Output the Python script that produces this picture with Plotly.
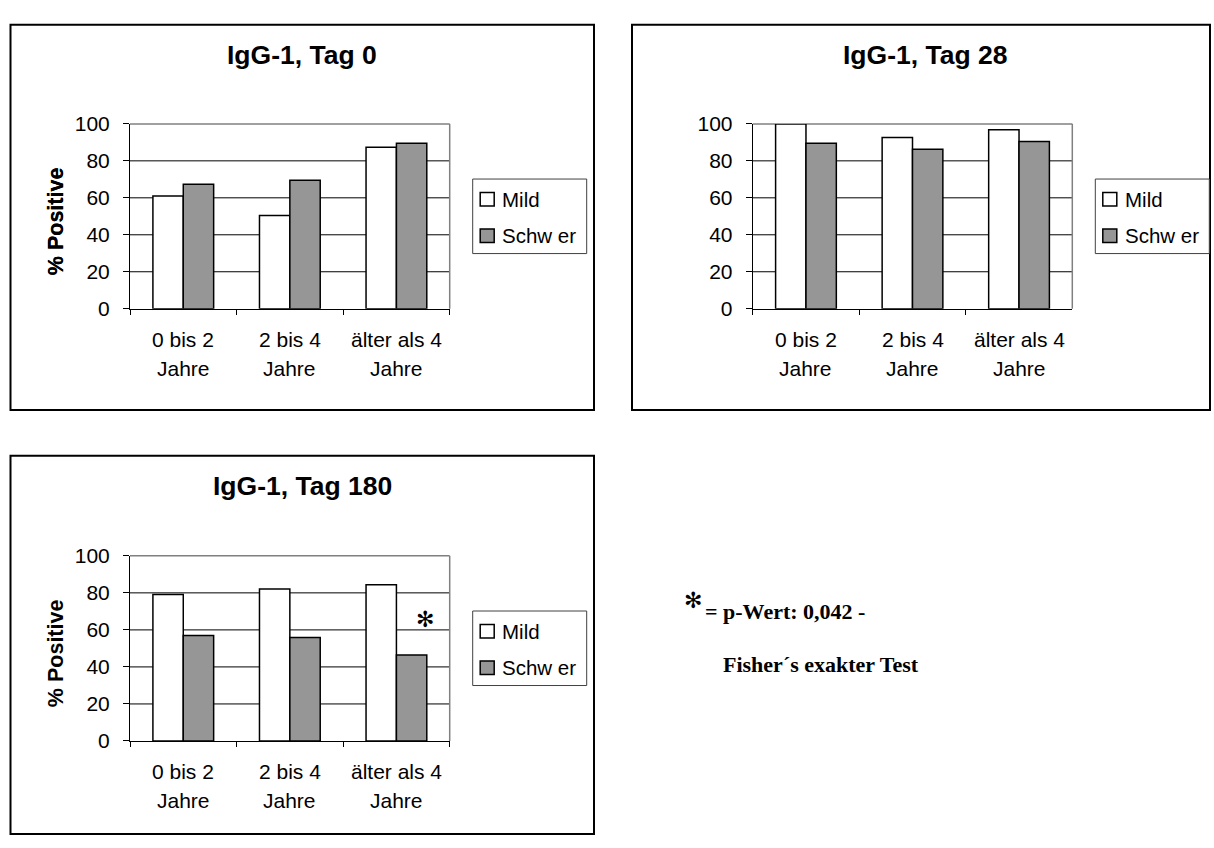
import plotly.graph_objects as go

W, H = 1214, 848

# ---------------- data ----------------
categories = ["0 bis 2 Jahre", "2 bis 4 Jahre", "älter als 4 Jahre"]
cat_line1 = ["0 bis 2", "2 bis 4", "älter als 4"]
cat_line2 = ["Jahre", "Jahre", "Jahre"]
series_names = ["Mild", "Schw er"]
titles = ["IgG-1, Tag 0", "IgG-1, Tag 28", "IgG-1, Tag 180"]
y_title = "% Positive"
y_ticks = [0, 20, 40, 60, 80, 100]

tag0_mild = [61.0, 50.4, 87.4]
tag0_schwer = [67.4, 69.5, 89.5]
tag28_mild = [100.0, 92.6, 96.8]
tag28_schwer = [89.5, 86.3, 90.5]
tag180_mild = [79.1, 82.1, 84.4]
tag180_schwer = [57.0, 55.9, 46.5]

star_text = "✻"
note_line1 = "= p-Wert: 0,042 -"
note_line2 = "Fisher´s exakter Test"

# ---------------- layout helpers ----------------
SANS = "Liberation Sans, Arial, sans-serif"
SERIF = "Liberation Serif, Times New Roman, serif"
MILD_COLOR = "#ffffff"
SCHWER_COLOR = "#969696"
AX_FONT = 21


def px(x):
    return x / W


def py(y):
    return 1 - y / H


panels = [
    dict(data=(tag0_mild, tag0_schwer), plot=(130, 115, 449.7, 305),
         box=(10.5, 13, 594, 409), title=(302, 44)),
    dict(data=(tag28_mild, tag28_schwer), plot=(752.7, 115, 1072.3, 305),
         box=(632, 13, 1210, 409), title=(925, 44)),
    dict(data=(tag180_mild, tag180_schwer), plot=(130, 559, 449.7, 749.3),
         box=(10.5, 456, 594, 845), title=(302, 487)),
]

fig = go.Figure()
shapes = []
annotations = []
layout_axes = {}

for i, p in enumerate(panels):
    k = "" if i == 0 else str(i + 1)
    xa, ya = "x" + k, "y" + k
    mild, schwer = p["data"]
    x0, y0, x1, y1 = p["plot"]

    # gridlines (below bars) and gray plot-area border (top, right)
    for v in y_ticks[1:-1]:
        shapes.append(dict(type="line", xref=xa + " domain", yref=ya,
                           x0=0, x1=1, y0=v, y1=v, layer="below",
                           line=dict(color="black", width=1)))
    shapes.append(dict(type="line", xref=xa + " domain", yref=ya + " domain",
                       x0=0, x1=1, y0=1, y1=1, layer="below",
                       line=dict(color="#808080", width=1.5)))
    shapes.append(dict(type="line", xref=xa + " domain", yref=ya + " domain",
                       x0=1, x1=1, y0=0, y1=1, layer="below",
                       line=dict(color="#808080", width=1.5)))

    fig.add_trace(go.Bar(x=categories, y=mild, name=series_names[0], xaxis=xa, yaxis=ya,
                         marker=dict(color=MILD_COLOR, line=dict(color="black", width=1.5)),
                         showlegend=False))
    fig.add_trace(go.Bar(x=categories, y=schwer, name=series_names[1], xaxis=xa, yaxis=ya,
                         marker=dict(color=SCHWER_COLOR, line=dict(color="black", width=1.5)),
                         showlegend=False))
    layout_axes["xaxis" + k] = dict(
        domain=[px(x0), px(x1)], anchor=ya, type="category",
        categoryorder="array", categoryarray=categories, range=[-0.5, 2.5],
        tickson="boundaries", ticks="outside", ticklen=5, tickwidth=1, tickcolor="black",
        showline=True, linecolor="black", linewidth=1, showticklabels=False,
        showgrid=False, zeroline=False, fixedrange=True)
    layout_axes["yaxis" + k] = dict(
        domain=[py(y1), py(y0)], anchor=xa, range=[0, 100], tickvals=y_ticks,
        ticks="outside", ticklen=6, tickwidth=1, tickcolor="black",
        showline=True, linecolor="black", linewidth=1,
        showgrid=False, zeroline=False,
        tickfont=dict(family=SANS, size=AX_FONT, color="black"), ticklabelstandoff=9,
        fixedrange=True)
    # outer chart frame
    bx0, by0, bx1, by1 = p["box"]
    shapes.append(dict(type="rect", xref="paper", yref="paper",
                       x0=px(bx0), x1=px(bx1), y0=py(by1), y1=py(by0),
                       line=dict(color="black", width=2), fillcolor="rgba(0,0,0,0)"))
    # title
    tx, ty = p["title"]
    annotations.append(dict(text="<b>%s</b>" % titles[i], xref="paper", yref="paper",
                            x=px(tx), y=py(ty), xanchor="center", yanchor="middle",
                            showarrow=False, font=dict(family=SANS, size=26.5, color="black")))
    # y-axis title
    annotations.append(dict(text="<b>%s</b>" % y_title, xref="paper", yref="paper",
                            x=px(56), y=py(y0 + 100), xanchor="center", yanchor="middle",
                            textangle=-90, showarrow=False,
                            font=dict(family=SANS, size=21.5, color="black")))
    # category labels (two lines)
    for j, c in enumerate(categories):
        annotations.append(dict(text=cat_line1[j], xref=xa, yref="paper", x=c,
                                y=py(y1 + 31.2), xanchor="center", yanchor="middle",
                                showarrow=False, font=dict(family=SANS, size=AX_FONT, color="black")))
        annotations.append(dict(text=cat_line2[j], xref=xa, yref="paper", x=c,
                                y=py(y1 + 61.2), xanchor="center", yanchor="middle",
                                showarrow=False, font=dict(family=SANS, size=AX_FONT, color="black")))
    # legend box
    lx, ly = x1 + 23, y0 + 56.7
    shapes.append(dict(type="rect", xref="paper", yref="paper",
                       x0=px(lx), x1=px(lx + 114), y0=py(ly + 76.6), y1=py(ly),
                       line=dict(color="#404040", width=1), fillcolor="white"))
    for s, (name, col) in enumerate(zip(series_names, [MILD_COLOR, SCHWER_COLOR])):
        cy = ly + 20.8 + s * 37.5
        shapes.append(dict(type="rect", xref="paper", yref="paper",
                           x0=px(lx + 7.5), x1=px(lx + 21.5), y0=py(cy + 7), y1=py(cy - 7),
                           line=dict(color="black", width=1.5), fillcolor=col))
        annotations.append(dict(text=name, xref="paper", yref="paper",
                                x=px(lx + 27.5), y=py(cy), xanchor="left", yanchor="middle",
                                showarrow=False, font=dict(family=SANS, size=20.5, color="black")))

# significance star in the Tag 180 chart
annotations.append(dict(text=star_text, xref="paper", yref="paper", x=px(424.7), y=py(624),
                        xanchor="center", yanchor="middle", showarrow=False,
                        font=dict(family="DejaVu Sans", size=22, color="black")))
# footnote
annotations.append(dict(text=star_text, xref="paper", yref="paper", x=px(693), y=py(605),
                        xanchor="center", yanchor="middle", showarrow=False,
                        font=dict(family="DejaVu Sans", size=22, color="black")))
annotations.append(dict(text="<b>%s</b>" % note_line1, xref="paper", yref="paper",
                        x=px(703), y=py(616), xanchor="left", yanchor="middle", showarrow=False,
                        font=dict(family=SERIF, size=22, color="black")))
annotations.append(dict(text="<b>%s</b>" % note_line2, xref="paper", yref="paper",
                        x=px(721), y=py(671), xanchor="left", yanchor="middle", showarrow=False,
                        font=dict(family=SERIF, size=22, color="black")))

fig.update_layout(
    width=W, height=H, autosize=False,
    margin=dict(l=0, r=0, t=0, b=0, pad=0),
    paper_bgcolor="white", plot_bgcolor="white",
    barmode="group", bargap=0.43, bargroupgap=0,
    showlegend=False,
    shapes=shapes, annotations=annotations,
    **layout_axes,
)

fig.write_html("out.html")
